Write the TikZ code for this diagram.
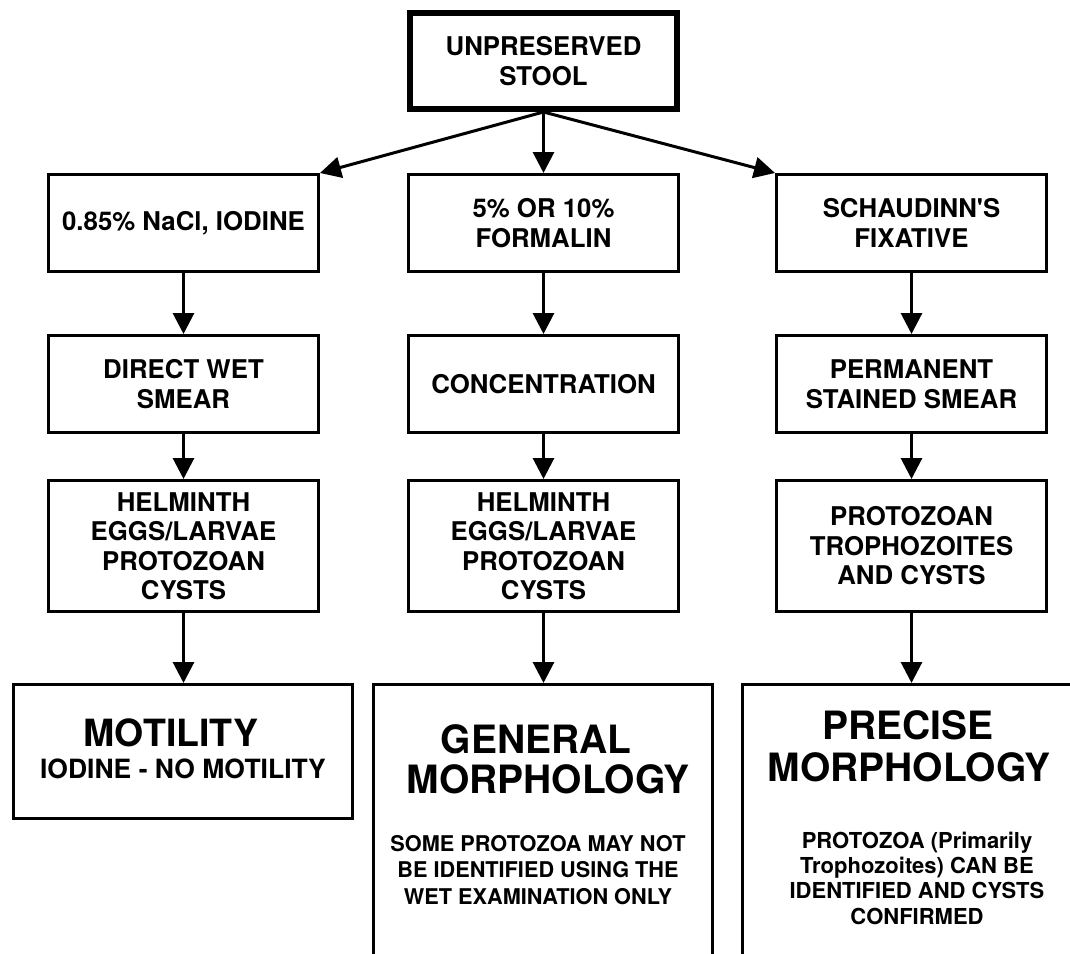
\documentclass[tikz,border=0pt]{standalone}
\usepackage{fontspec}
\setmainfont{TeX Gyre Heros}
\newfontfamily\plainhelv{TeX Gyre Heros}
\usetikzlibrary{arrows.meta}
\tikzset{
  box/.style={draw, line width=1.5pt, inner sep=0pt, minimum width=135pt, align=center,
    font=\bfseries\fontsize{12.9}{14.75}\selectfont},
  topbox/.style={box, line width=3pt, minimum width=133.5pt, minimum height=48pt},
  rowA/.style={box, minimum height=48.5pt},
  rowC/.style={box, minimum height=65.5pt},
  bigbox/.style={draw, line width=1.5pt, inner sep=0pt, minimum width=169.5pt},
  arr/.style={line width=1.5pt, -{Triangle[length=10.5pt,width=10.5pt]}},
  bigtxt/.style={inner sep=0pt, font=\bfseries\fontsize{19.5}{20}\selectfont},
  midtxt/.style={inner sep=0pt, font=\bfseries\fontsize{13.25}{15}\selectfont},
  smalltxt/.style={inner sep=0pt, align=center, font=\bfseries\fontsize{10.85}{13.25}\selectfont},
}
\begin{document}
\begin{tikzpicture}[x=0.5pt,y=-0.5pt]
\useasboundingbox (0,0) rectangle (1070,953);
\clip (0,0) rectangle (1070,953);
% top
\node[topbox] (t0) at (543.5,61) {UNPRESERVED\\STOOL};
% row 1
\node[rowA] (l1) at (183.5,223) {0.85\% NaCl, IODINE};
\node[rowA] (m1) at (543.5,223) {5\% OR 10\%\\FORMALIN};
\node[rowA] (r1) at (911.5,223) {{\plainhelv\bfseries SCHAUDINN'S}\\FIXATIVE};
% row 2
\node[rowA] (l2) at (183.5,384) {DIRECT WET\\SMEAR};
\node[rowA] (m2) at (543.5,384) {CONCENTRATION};
\node[rowA] (r2) at (911.5,384) {PERMANENT\\STAINED SMEAR};
% row 3
\node[rowC] (l3) at (183.5,546) {HELMINTH\\EGGS/LARVAE\\PROTOZOAN\\CYSTS};
\node[rowC] (m3) at (543.5,546) {HELMINTH\\EGGS/LARVAE\\PROTOZOAN\\CYSTS};
\node[rowC] (r3) at (911.5,546) {PROTOZOAN\\TROPHOZOITES\\AND CYSTS};
% bottom boxes
\node[bigbox, minimum height=67pt] (mot) at (183,751.5) {};
\node[bigbox, minimum height=160pt] (gen) at (543,844.5) {};
\node[bigbox, minimum width=180pt, minimum height=160pt] (prec) at (922.5,844.5) {};
% bottom texts
\node[inner sep=0pt, font=\bfseries\fontsize{18.75}{20}\selectfont] (motA) at (171,733) {MOTILITY};
\node[midtxt] (motB) at (183,768.5) {IODINE - NO MOTILITY};
\node[bigtxt] (genA) at (536,739) {GENERAL};
\node[bigtxt] (genB) at (548,779.5) {MORPHOLOGY};
\node[smalltxt] (genC) at (538,870) {SOME PROTOZOA MAY NOT\\BE IDENTIFIED USING THE\\WET EXAMINATION ONLY};
\node[bigtxt] (precA) at (908,725) {PRECISE};
\node[bigtxt] (precB) at (909,767) {MORPHOLOGY};
\node[smalltxt, font=\bfseries\fontsize{11}{12.65}\selectfont] (precC) at (917,878) {PROTOZOA (Primarily\\Trophozoites) CAN BE\\IDENTIFIED AND CYSTS\\CONFIRMED};
% connectors
\draw[arr] (t0.south) -- (l1.north east);
\draw[arr] (t0.south) -- (m1.north);
\draw[arr] (t0.south) -- (r1.north west);
\draw[arr] (l1.south) -- (l2.north);
\draw[arr] (m1.south) -- (m2.north);
\draw[arr] (r1.south) -- (r2.north);
\draw[arr] (l2.south) -- (l3.north);
\draw[arr] (m2.south) -- (m3.north);
\draw[arr] (r2.south) -- (r3.north);
\draw[arr] (l3.south) -- (l3.south |- mot.north);
\draw[arr] (m3.south) -- (m3.south |- gen.north);
\draw[arr] (r3.south) -- (r3.south |- prec.north);
\end{tikzpicture}
\end{document}
